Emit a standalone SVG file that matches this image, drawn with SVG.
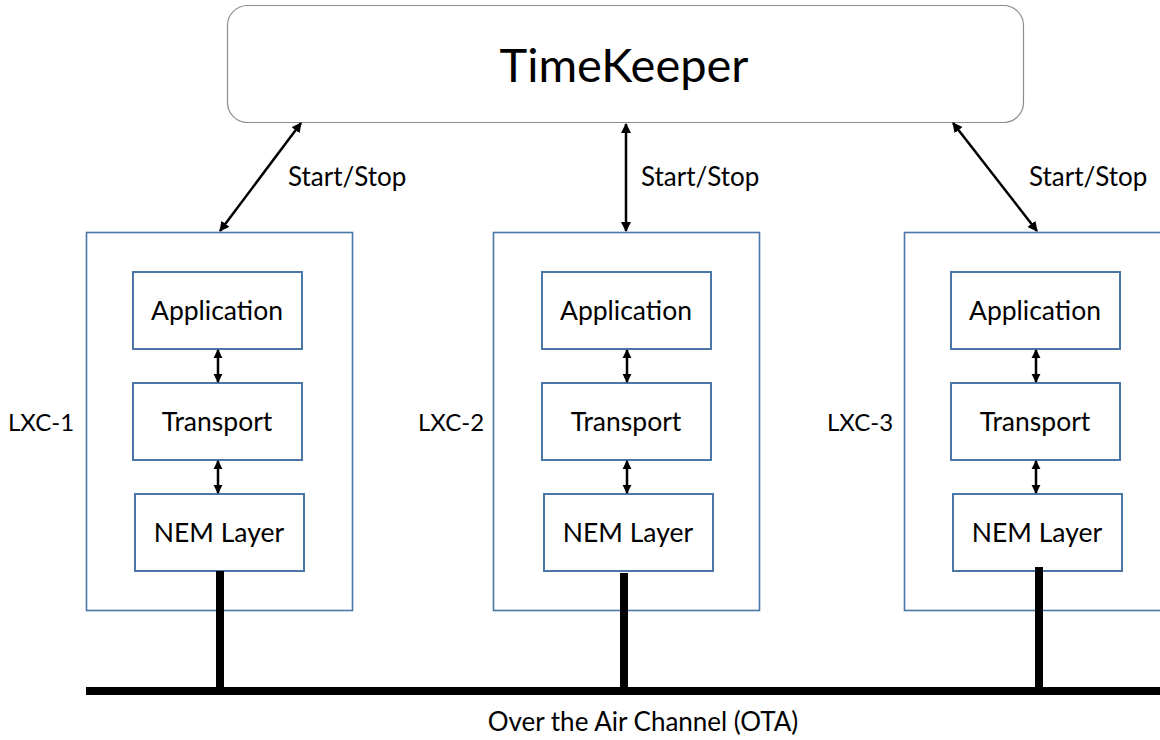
<svg xmlns="http://www.w3.org/2000/svg" width="1160" height="740" viewBox="0 0 1160 740">
<style>
  text { font-family: Lato, "Liberation Sans", sans-serif; fill: #000; }
  .lbl { font-size: 26.5px; text-anchor: middle; dominant-baseline: central; }
  .side { font-size: 24px; dominant-baseline: central; }
  .ss { font-size: 26px; dominant-baseline: central; }
  .outer { fill: #fff; stroke: #4a76a8; stroke-width: 1.6; }
  .inner { fill: #fff; stroke: #4a76a8; stroke-width: 2; }
  .tk { fill: #fff; stroke: #8c8c8c; stroke-width: 1.2; }
  .arr { stroke: #000; stroke-width: 2.5; fill: none; marker-start: url(#ah); marker-end: url(#ah); }
  .sarr { stroke: #000; stroke-width: 2.5; fill: none; marker-start: url(#ahs); marker-end: url(#ahs); }
  .bus { stroke: #000; stroke-width: 8; fill: none; }
</style>
<defs>
  <marker id="ah" viewBox="0 0 10 10" refX="9" refY="5" markerWidth="4" markerHeight="4" orient="auto-start-reverse" markerUnits="strokeWidth">
    <path d="M0,0 L10,5 L0,10 z" fill="#000"/>
  </marker>
  <marker id="ahs" viewBox="0 0 10 10" refX="9" refY="5" markerWidth="3.6" markerHeight="3.8" orient="auto-start-reverse" markerUnits="strokeWidth">
    <path d="M0,0 L10,5 L0,10 z" fill="#000"/>
  </marker>
</defs>

<g id="timekeeper">
  <rect class="tk" x="227.5" y="5.5" width="796" height="117" rx="20" ry="20"/>
  <text x="624" y="64" style="font-size:47px;text-anchor:middle;dominant-baseline:central">TimeKeeper</text>
</g>

<g id="lxc1">
  <rect class="outer" x="86.5" y="232.5" width="266" height="378"/>
  <text class="side" x="8" y="421">LXC-1</text>
  <g id="lxc1-app"><rect class="inner" x="133" y="272" width="169" height="77"/><text class="lbl" x="217" y="310">Application</text></g>
  <g id="lxc1-trans"><rect class="inner" x="133" y="383" width="169" height="77"/><text class="lbl" x="217" y="421">Transport</text></g>
  <g id="lxc1-nem"><rect class="inner" x="135" y="494" width="169" height="77"/><text class="lbl" x="219" y="532">NEM Layer</text></g>
</g>

<g id="lxc2">
  <rect class="outer" x="493.5" y="232.5" width="266" height="378"/>
  <text class="side" x="418" y="421">LXC-2</text>
  <g id="lxc2-app"><rect class="inner" x="542" y="272" width="169" height="77"/><text class="lbl" x="626" y="310">Application</text></g>
  <g id="lxc2-trans"><rect class="inner" x="542" y="383" width="169" height="77"/><text class="lbl" x="626" y="421">Transport</text></g>
  <g id="lxc2-nem"><rect class="inner" x="544" y="494" width="169" height="77"/><text class="lbl" x="628" y="532">NEM Layer</text></g>
</g>

<g id="lxc3">
  <rect class="outer" x="904.5" y="232.5" width="266" height="378"/>
  <text class="side" x="827" y="421">LXC-3</text>
  <g id="lxc3-app"><rect class="inner" x="951" y="272" width="169" height="77"/><text class="lbl" x="1035" y="310">Application</text></g>
  <g id="lxc3-trans"><rect class="inner" x="951" y="383" width="169" height="77"/><text class="lbl" x="1035" y="421">Transport</text></g>
  <g id="lxc3-nem"><rect class="inner" x="953" y="494" width="169" height="77"/><text class="lbl" x="1037" y="532">NEM Layer</text></g>
</g>

<g id="connectors">
  <line class="arr" x1="301" y1="123" x2="220" y2="231"/>
  <line class="arr" x1="626" y1="124" x2="626" y2="231"/>
  <line class="arr" x1="953" y1="123" x2="1037" y2="231"/>
  <text class="ss" x="288" y="176">Start/Stop</text>
  <text class="ss" x="641" y="176">Start/Stop</text>
  <text class="ss" x="1029" y="176">Start/Stop</text>

  <line class="sarr" x1="218" y1="350" x2="218" y2="382"/>
  <line class="sarr" x1="218" y1="461" x2="218" y2="493"/>
  <line class="sarr" x1="627" y1="350" x2="627" y2="382"/>
  <line class="sarr" x1="627" y1="461" x2="627" y2="493"/>
  <line class="sarr" x1="1036" y1="350" x2="1036" y2="382"/>
  <line class="sarr" x1="1036" y1="461" x2="1036" y2="493"/>

  <line class="bus" x1="86" y1="691" x2="1160" y2="691"/>
  <line class="bus" x1="220" y1="571" x2="220" y2="691"/>
  <line class="bus" x1="624" y1="573" x2="624" y2="691"/>
  <line class="bus" x1="1039" y1="567" x2="1039" y2="687"/>
  <text x="643" y="721" style="font-size:26px;text-anchor:middle;dominant-baseline:central">Over the Air Channel (OTA)</text>
</g>
</svg>
